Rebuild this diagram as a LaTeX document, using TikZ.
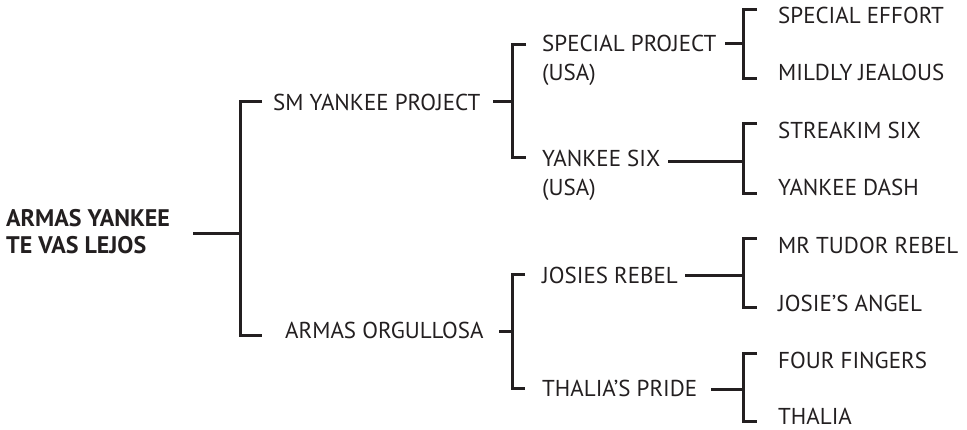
\documentclass[tikz,border=0pt]{standalone}
\usepackage{fontspec}
\setmainfont{PT Sans}
\definecolor{ink}{HTML}{231F20}
\tikzset{
  lbl/.style={anchor=base west, inner sep=0pt, text=ink, font=\fontsize{23}{27}\selectfont},
  rootlbl/.style={lbl, font=\fontsize{24}{27}\selectfont\bfseries},
  conn/.style={draw=ink, line width=3pt, line join=miter, line cap=butt}
}
\begin{document}
\begin{tikzpicture}[x=1pt, y=-1pt]
\useasboundingbox (0,0) rectangle (967,429);
% labels
\node[rootlbl] (root1) at (6,226) {ARMAS YANKEE};
\node[rootlbl] (root2) at (6,253) {TE VAS LEJOS};
\node[lbl] (smyp) at (273,110) {SM YANKEE PROJECT};
\node[lbl] (ao) at (285,338) {ARMAS ORGULLOSA};
\node[lbl] (sp) at (542,51) {SPECIAL PROJECT};
\node[lbl] (spusa) at (542,80) {(USA)};
\node[lbl] (ys) at (542,166) {YANKEE SIX};
\node[lbl] (ysusa) at (542,195) {(USA)};
\node[lbl] (jr) at (542,283) {JOSIES REBEL};
\node[lbl] (tp) at (542,396) {THALIA’S PRIDE};
\node[lbl] (se) at (778,23) {SPECIAL EFFORT};
\node[lbl] (mj) at (778,80) {MILDLY JEALOUS};
\node[lbl] (ss) at (778,138) {STREAKIM SIX};
\node[lbl] (yd) at (778,195) {YANKEE DASH};
\node[lbl] (mtr) at (778,253) {MR TUDOR REBEL};
\node[lbl] (ja) at (778,311) {JOSIE’S ANGEL};
\node[lbl] (ff) at (778,368) {FOUR FINGERS};
\node[lbl] (th) at (778,424) {THALIA};
% connector points
\coordinate (s0) at (193,233); \coordinate (j0) at (240,233);
\coordinate (t0a) at (262,101); \coordinate (t0b) at (262,335);
\coordinate (s1) at (493,101); \coordinate (j1) at (512,101);
\coordinate (t1a) at (526,44); \coordinate (t1b) at (526,157);
\coordinate (s2) at (499,331); \coordinate (j2) at (512,331);
\coordinate (t2a) at (525,274); \coordinate (t2b) at (525,388);
\coordinate (s3) at (725,43); \coordinate (j3) at (743,43);
\coordinate (t3a) at (757,9); \coordinate (t3b) at (757,78);
\coordinate (s4) at (668,161); \coordinate (j4) at (743,161);
\coordinate (t4a) at (757,123); \coordinate (t4b) at (757,193);
\coordinate (s5) at (685,275); \coordinate (j5) at (743,275);
\coordinate (t5a) at (757,238); \coordinate (t5b) at (757,307);
\coordinate (s6) at (711,389); \coordinate (j6) at (743,389);
\coordinate (t6a) at (757,353); \coordinate (t6b) at (757,421);
% connectors
\foreach \i in {0,...,6}{
  \draw[conn] (s\i) -- (j\i);
  \draw[conn] (t\i a) -| (j\i) |- (t\i b);
}
\end{tikzpicture}
\end{document}
